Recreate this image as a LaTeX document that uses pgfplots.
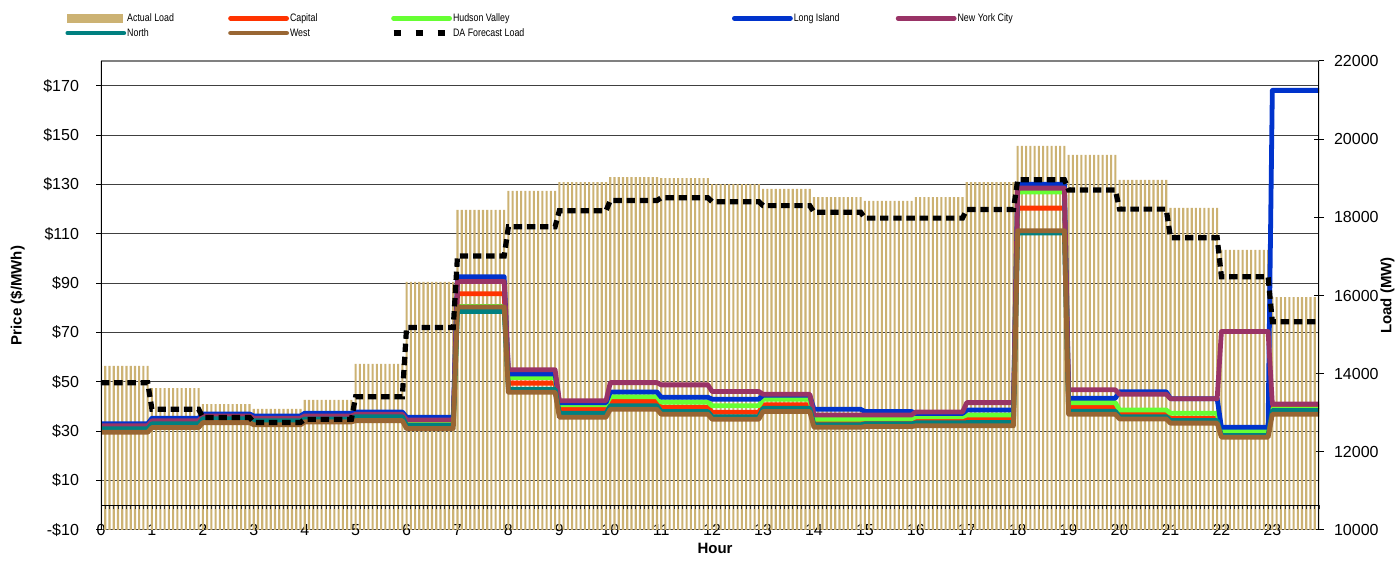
\documentclass[border=0pt]{standalone}
\usepackage{fontspec}
\setmainfont{Liberation Sans}
\newfontfamily\legendfont[FakeStretch=0.82]{Liberation Sans}
\usepackage{pgfplots}
\usepackage{pgfplotstable}
\pgfplotsset{compat=1.18}
\definecolor{loadc}{RGB}{204,178,115}
\definecolor{capc}{RGB}{255,51,0}
\definecolor{hvc}{RGB}{102,255,51}
\definecolor{lic}{RGB}{0,51,204}
\definecolor{nycc}{RGB}{153,51,102}
\definecolor{northc}{RGB}{0,128,128}
\definecolor{westc}{RGB}{153,102,51}

\pgfplotstableread{
h load
0 14200
1 13630
2 13220
3 13100
4 13330
5 14250
6 16350
7 18190
8 18675
9 18900
10 19030
11 19000
12 18850
13 18730
14 18520
15 18420
16 18520
17 18900
18 19830
19 19600
20 18960
21 18240
22 17165
23 15960
}\loadtab

\pgfplotstableread{
x li nyc hv cap north west da
0 33.0 32.2 31.4 31.2 31.0 29.6 13770
0.9167 33.0 32.2 31.4 31.2 31.0 29.6 13770
1 35.3 34.2 33.4 33.2 33.0 31.5 13090
1.9167 35.3 34.2 33.4 33.2 33.0 31.5 13090
2 37.0 36.2 35.4 35.2 35.1 33.5 12880
2.9167 37.0 36.2 35.4 35.2 35.1 33.5 12880
3 36.2 35.3 34.4 34.3 34.2 32.6 12750
3.9167 36.2 35.3 34.4 34.3 34.2 32.6 12750
4 37.3 36.2 35.3 35.1 35.0 33.8 12830
4.9167 37.3 36.2 35.3 35.1 35.0 33.8 12830
5 37.8 36.9 36.1 36.0 35.9 34.3 13410
5.9167 37.8 36.9 36.1 36.0 35.9 34.3 13410
6 35.7 34.6 33.5 32.9 32.3 31.1 15180
6.9167 35.7 34.6 33.5 32.9 32.3 31.1 15180
7 92.6 90.7 80.5 85.7 78.5 80.3 17010
7.9167 92.6 90.7 80.5 85.7 78.5 80.3 17010
8 53.2 54.9 51.8 49.5 47.0 45.8 17760
8.9167 53.2 54.9 51.8 49.5 47.0 45.8 17760
9 41.6 42.4 40.7 38.9 37.3 35.7 18170
9.9167 41.6 42.4 40.7 38.9 37.3 35.7 18170
10 45.9 49.7 44.0 42.0 40.3 38.9 18430
10.9167 45.9 49.7 44.0 42.0 40.3 38.9 18430
11 43.8 48.8 41.8 39.7 38.0 36.9 18500
11.9167 43.8 48.8 41.8 39.7 38.0 36.9 18500
12 43.0 46.1 40.3 37.7 35.9 34.9 18400
12.9167 43.0 46.1 40.3 37.7 35.9 34.9 18400
13 44.6 45.0 43.0 40.7 39.3 38.0 18300
13.9167 44.6 45.0 43.0 40.7 39.3 38.0 18300
14 38.9 36.6 34.9 33.5 32.6 31.6 18130
14.9167 38.9 36.6 34.9 33.5 32.6 31.6 18130
15 38.0 36.6 35.1 33.9 33.0 31.9 17980
15.9167 38.0 36.6 35.1 33.9 33.0 31.9 17980
16 37.2 37.8 35.9 34.9 33.4 32.2 17980
16.9167 37.2 37.8 35.9 34.9 33.4 32.2 17980
17 38.6 41.6 36.6 34.9 33.5 32.2 18200
17.9167 38.6 41.6 36.6 34.9 33.5 32.2 18200
18 130.1 128.5 126.9 120.4 110.3 111.2 18960
18.9167 130.1 128.5 126.9 120.4 110.3 111.2 18960
19 43.4 46.8 41.6 39.7 38.1 36.9 18700
19.9167 43.4 46.8 41.6 39.7 38.1 36.9 18700
20 46.0 45.0 38.6 37.0 35.9 35.0 18210
20.9167 46.0 45.0 38.6 37.0 35.9 35.0 18210
21 43.2 43.2 37.3 35.3 34.3 33.3 17480
21.9167 43.2 43.2 37.3 35.3 34.3 33.3 17480
22 31.6 70.4 30.1 29.2 28.3 27.6 16480
22.9167 31.6 70.4 30.1 29.2 28.3 27.6 16480
23 168.1 41.0 39.0 40.0 38.4 36.9 15330
23.9167 168.1 41.0 39.0 40.0 38.4 36.9 15330
}\prices

\begin{document}
\begin{tikzpicture}
\pgfplotsset{
  base/.style={at={(50.5pt,15.5pt)}, anchor=south west, scale only axis,
    width=609pt, height=234.5pt, xmin=0, xmax=23.9167, enlargelimits=false,
    /pgf/number format/assume math mode=true,
    tick label style={font=\fontsize{8}{9.6}\selectfont}},
  pricey/.style={ymin=-10, ymax=180},
  loady/.style={ymin=10000, ymax=22000},
}
% A: price axis, grid, labels
\begin{axis}[base, pricey,
  axis line style={draw=none},
  ytick={-10,10,...,170},
  yticklabels={-\$10,\$10,\$30,\$50,\$70,\$90,\$110,\$130,\$150,\$170},
  ytick pos=left,
  ymajorgrids, major grid style={black!75, line width=0.5pt},
  tick align=outside, major tick length=2.5pt,
  ytick style={black, line width=0.5pt},
  yticklabel style={xshift=-5pt},
  xtick={0,...,23}, xtick style={draw=none},
  xticklabel style={anchor=center, yshift=2.5pt},
  xlabel={Hour}, ylabel={Price (\$/MWh)},
  every axis x label/.style={at={(axis description cs:0.5,0)}, anchor=north, yshift=-6.5pt, xshift=2.5pt, inner sep=0pt, font=\bfseries\fontsize{7.5}{9}\selectfont},
  every axis y label/.style={at={(axis description cs:0,0.5)}, xshift=-45.5pt, rotate=90, anchor=north, inner sep=0pt, font=\bfseries\fontsize{7.5}{9}\selectfont},
]
\addplot[draw=none] coordinates {(0,0)};
\end{axis}
% B: load axis with bars
\begin{axis}[base, loady, axis x line=none, axis y line*=right,
  y axis line style={draw=none},
  ytick={10000,12000,...,22000}, scaled y ticks=false,
  /pgf/number format/1000 sep={},
  tick align=center, major tick length=5pt,
  ytick style={black, line width=0.5pt},
  yticklabel style={xshift=1.5pt},
  ylabel={Load (MW)},
  every axis y label/.style={at={(axis description cs:1,0.5)}, xshift=30.5pt, rotate=90, anchor=north, inner sep=0pt, font=\bfseries\fontsize{7.5}{9}\selectfont},
]
\pgfplotsinvokeforeach{0,...,11}{
  \addplot[ybar, bar width=1.05pt, bar shift=0pt, fill=loadc, draw=none]
    table[x expr=\thisrow{h}+#1/12, y=load] {\loadtab};
}
\end{axis}
% C: price lines and zero line
\begin{axis}[base, pricey, axis y line=none, axis x line=middle,
  x axis line style={-, black, line width=0.5pt},
  xtick={0,...,24}, xticklabels={}, minor x tick num=11,
  tick align=outside, major tick length=2pt, minor tick length=2pt,
  xtick style={black!80, line width=0.35pt},
  every axis plot/.append style={line width=2.4pt, line join=round, line cap=round},
]
\addplot[capc] table[x=x, y=cap] {\prices};
\addplot[hvc] table[x=x, y=hv] {\prices};
\addplot[lic] table[x=x, y=li] {\prices};
\addplot[nycc] table[x=x, y=nyc] {\prices};
\addplot[northc] table[x=x, y=north] {\prices};
\addplot[westc] table[x=x, y=west] {\prices};
\end{axis}
% D: DA load, frame, legend
\begin{axis}[base, loady, hide axis,
  legend columns=5, legend cell align=left,
  legend image code/.code={\draw[#1] (0pt,0pt) -- (28pt,0pt);},
  legend style={at={(axis description cs:-0.02956,1.1035)}, anchor=north west,
    draw=none, fill=none, inner sep=0pt, column sep=0pt, row sep=2pt,
    font=\legendfont\fontsize{5.4}{6.5}\selectfont,
    nodes={inner xsep=0.5pt, inner ysep=0pt, text height=4.2pt, text depth=1.2pt}},
]
\addlegendimage{legend image code/.code={\fill[loadc] (0pt,-1.9pt) rectangle (27.5pt,1.9pt);}}
\addlegendimage{capc, line width=2.4pt, line cap=round}
\addlegendimage{hvc, line width=2.4pt, line cap=round}
\addlegendimage{lic, line width=2.4pt, line cap=round}
\addlegendimage{nycc, line width=2.4pt, line cap=round}
\addlegendimage{northc, line width=2.4pt, line cap=round}
\addlegendimage{westc, line width=2.4pt, line cap=round}
\addlegendimage{legend image code/.code={\draw[black, line width=2.6pt, dash pattern=on 3.75pt off 7.25pt] (0pt,0pt) -- (27pt,0pt);}}
\addplot[forget plot, black, line width=2.6pt, dash pattern=on 4.2pt off 2.4pt] table[x=x, y=da] {\prices};
\draw[gray, line width=0.6pt] (rel axis cs:0,1) -- (rel axis cs:1,1);
\draw[black, line width=0.6pt] (rel axis cs:0,0) -- (rel axis cs:0,1);
\draw[black, line width=0.6pt] (rel axis cs:1,0) -- (rel axis cs:1,1);
\legend{\makebox[50pt][l]{Actual Load}, \makebox[50pt][l]{Capital}, \makebox[139pt][l]{Hudson Valley}, \makebox[50.5pt][l]{Long Island}, New York City, North, West, DA Forecast Load}
\end{axis}
\pgfresetboundingbox
\path[use as bounding box] (0,0) rectangle (698pt,280.5pt);
\end{tikzpicture}
\end{document}
